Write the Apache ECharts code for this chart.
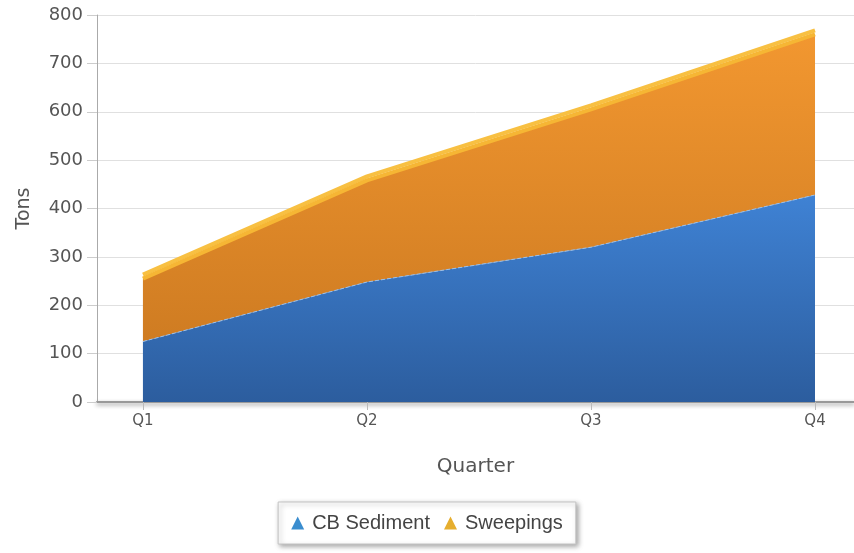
<!DOCTYPE html>
<html>

<head>
    <meta charset="utf-8">
    <title>Quarterly tons</title>
    <script src="https://cdn.jsdelivr.net/npm/echarts@6/dist/echarts.min.js"></script>
    <style>
        html, body {
            margin: 0;
            padding: 0;
            background: #fff;
        }

        #main {
            width: 854px;
            height: 553px;
        }
    </style>
</head>

<body>
    <div id="main"></div>
    <script>
        // data
        var quarters = ['Q1', 'Q2', 'Q3', 'Q4'];
        var cbSediment = [125, 248, 320, 428];
        var sweepings = [130, 210, 285, 332];
        var yTicks = [0, 100, 200, 300, 400, 500, 600, 700, 800];

        var labelFont = 'DejaVu Sans';

        // x is a value axis so the plot can start left of Q1.
        // value goes first in each pair so the stack is done on y
        function toPoints(arr) {
            return arr.map(function (v, i) { return [v, i]; });
        }
        var qIndex = quarters.map(function (q, i) { return i; });

        var chartDom = document.getElementById('main');
        var myChart = echarts.init(chartDom);
        var option;

        option = {
            animation: false,
            backgroundColor: '#fff',
            legend: {
                top: 502,
                left: 'center',
                data: [
                    { name: 'CB Sediment', icon: 'triangle', itemStyle: { color: '#3a8dcf' } },
                    { name: 'Sweepings', icon: 'triangle', itemStyle: { color: '#e6ae2e' } }
                ],
                itemWidth: 13,
                itemHeight: 13,
                itemGap: 14,
                padding: [11, 13],
                backgroundColor: '#fff',
                borderColor: '#c4c4c4',
                borderWidth: 1,
                shadowColor: 'rgba(0,0,0,0.35)',
                shadowBlur: 5,
                shadowOffsetX: 2,
                shadowOffsetY: 2,
                textStyle: {
                    fontFamily: 'Liberation Sans',
                    fontSize: 20,
                    color: '#444',
                    padding: [0, 0, 0, 3]
                }
            },
            grid: {
                left: 97,
                right: 0,
                top: 15,
                bottom: 151,
                outerBoundsMode: 'none'
            },
            xAxis: {
                type: 'value',
                min: -0.205,
                max: 3.174,
                name: 'Quarter',
                nameLocation: 'middle',
                nameGap: 55,
                nameTextStyle: {
                    fontFamily: labelFont,
                    fontSize: 20,
                    color: '#555'
                },
                axisLine: {
                    lineStyle: {
                        color: '#999',
                        width: 2,
                        shadowColor: 'rgba(0,0,0,0.45)',
                        shadowBlur: 4,
                        shadowOffsetY: 2
                    }
                },
                axisTick: {
                    customValues: qIndex,
                    length: 8,
                    lineStyle: { color: '#bbb' }
                },
                axisLabel: {
                    customValues: qIndex,
                    formatter: function (v) { return quarters[Math.round(v)]; },
                    fontFamily: labelFont,
                    fontSize: 15,
                    color: '#555',
                    margin: 12
                },
                splitLine: { show: false }
            },
            yAxis: {
                type: 'value',
                min: 0,
                max: 800,
                interval: 100,
                name: 'Tons',
                nameLocation: 'middle',
                nameGap: 63,
                nameTextStyle: {
                    fontFamily: labelFont,
                    fontSize: 19,
                    color: '#555'
                },
                axisLine: {
                    show: true,
                    onZero: false,
                    lineStyle: { color: '#aaa', width: 1 }
                },
                axisTick: {
                    show: true,
                    length: 10,
                    lineStyle: { color: '#ccc' }
                },
                axisLabel: {
                    formatter: function (v) { return yTicks.indexOf(v) >= 0 ? String(v) : ''; },
                    fontFamily: labelFont,
                    fontSize: 18,
                    color: '#555',
                    margin: 14
                },
                splitLine: {
                    lineStyle: { color: '#e0e0e0', width: 1 }
                }
            },
            series: [
                {
                    name: 'CB Sediment',
                    type: 'line',
                    stack: 'Total',
                    data: toPoints(cbSediment),
                    encode: { x: 1, y: 0 },
                    symbol: 'none',
                    lineStyle: {
                        color: '#9dbfe6',
                        width: 1,
                        type: 'dashed'
                    },
                    areaStyle: {
                        opacity: 1,
                        color: new echarts.graphic.LinearGradient(0, 0, 0, 1, [
                            { offset: 0, color: '#3f82d4' },
                            { offset: 1, color: '#2c5d9e' }
                        ])
                    },
                    itemStyle: { color: '#3a8dcf' },
                    z: 3
                },
                {
                    name: 'Sweepings',
                    type: 'line',
                    stack: 'Total',
                    data: toPoints(sweepings),
                    encode: { x: 1, y: 0 },
                    symbol: 'none',
                    // yellow top face of the 3D look
                    lineStyle: {
                        color: '#f6b634',
                        width: 4,
                        shadowColor: '#f8c042',
                        shadowBlur: 0,
                        shadowOffsetY: -4
                    },
                    areaStyle: {
                        opacity: 1,
                        color: new echarts.graphic.LinearGradient(0, 0, 0, 1, [
                            { offset: 0, color: '#f29730' },
                            { offset: 1, color: '#cf7c22' }
                        ])
                    },
                    itemStyle: { color: '#e6ae2e' },
                    z: 2
                }
            ]
        };

        option && myChart.setOption(option);
    </script>
</body>

</html>
